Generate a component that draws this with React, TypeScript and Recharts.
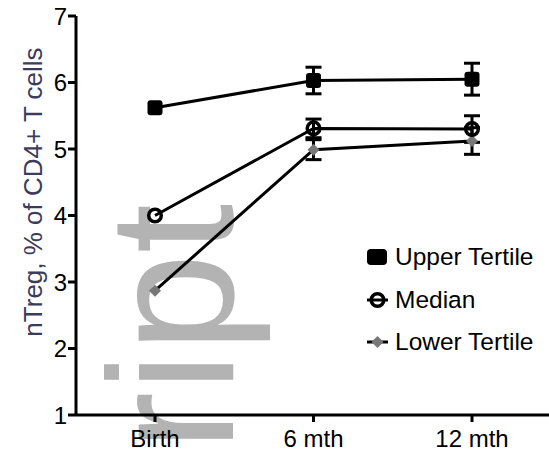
import React from 'react';
import { LineChart, Line, XAxis, YAxis, ErrorBar, Legend } from 'recharts';

const FONT = "Arial, 'Liberation Sans', sans-serif";

// values (mean ± SEM); no visible bars at birth
const timepoints = ['Birth', '6 mth', '12 mth'];
const upperTertile = [5.62, 6.03, 6.05];
const upperTertileErr = [0, 0.2, 0.24];
const medianGroup = [4.0, 5.31, 5.3];
const medianErr = [0, 0.14, 0.2];
const lowerTertile = [2.87, 4.99, 5.12];
const lowerTertileErr = [0, 0.15, 0.2];
const yTicks = [1, 2, 3, 4, 5, 6, 7];

const seriesNames = ['Upper Tertile', 'Median', 'Lower Tertile'];
const seriesShapes = ['square', 'circle', 'diamond'];

const data = timepoints.map((time, i) => ({
  time,
  upper: upperTertile[i],
  upperErr: upperTertileErr[i],
  median: medianGroup[i],
  medianErr: medianErr[i],
  lower: lowerTertile[i],
  lowerErr: lowerTertileErr[i],
}));

const Marker = ({ shape, cx, cy }: { shape: string; cx: number; cy: number }) => {
  if (shape === 'square') {
    return <rect x={cx - 7.5} y={cy - 7.5} width={15} height={15} rx={3} fill="#000" />;
  }
  if (shape === 'circle') {
    return <circle cx={cx} cy={cy} r={6.3} fill="none" stroke="#000" strokeWidth={3.5} />;
  }
  return (
    <polygon
      points={`${cx},${cy - 6} ${cx + 6},${cy} ${cx},${cy + 6} ${cx - 6},${cy}`}
      fill="#777"
    />
  );
};

const makeDot = (shape: string) => (props: any) => {
  const { cx, cy, key } = props;
  if (cx == null || cy == null) return null;
  return <Marker key={key} shape={shape} cx={cx} cy={cy} />;
};

const LegendSymbol = ({ shape }: { shape: string }) => (
  <svg width={24} height={22} style={{ overflow: 'visible' }}>
    {shape === 'square' ? (
      <rect x={1} y={3} width={20} height={16} rx={4} fill="#000" />
    ) : (
      <>
        <line x1={1} y1={11} x2={22} y2={11} stroke="#000" strokeWidth={3} />
        <Marker shape={shape} cx={11.5} cy={11} />
      </>
    )}
  </svg>
);

const LegendContent = () => (
  <div style={{ fontFamily: FONT, fontSize: 24.5, color: '#000' }}>
    {seriesNames.map((name, i) => (
      <div key={name} style={{ display: 'flex', alignItems: 'center', height: 42.5 }}>
        <LegendSymbol shape={seriesShapes[i]} />
        <span style={{ marginLeft: 5 }}>{name}</span>
      </div>
    ))}
  </div>
);

const YLabel = () => (
  <text
    x={33}
    y={192}
    transform="rotate(-90 33 192)"
    textAnchor="middle"
    dominantBaseline="central"
    fontSize={26}
    fontFamily={FONT}
    fill="#3c3c5a"
  >
    nTreg, % of CD4+ T cells
  </text>
);

export default function App() {
  return (
    <div style={{ position: 'absolute', left: 0, top: 0, width: 549, height: 454, background: '#fff' }}>
      {/* manuscript watermark behind the plot */}
      <svg width={549} height={454} style={{ position: 'absolute', left: 0, top: 0 }}>
        <text
          x={233}
          y={451}
          transform="rotate(-90 233 451)"
          fontSize={178}
          fontFamily={FONT}
          fill="#b3b3b3"
        >
          ript
        </text>
      </svg>
      <div style={{ position: 'absolute', left: 0, top: 0 }}>
        <LineChart width={549} height={454} data={data} margin={{ top: 16, right: 0, bottom: 0, left: 0 }}>
          <XAxis
            dataKey="time"
            padding={{ left: 79, right: 77 }}
            height={39}
            stroke="#000"
            strokeWidth={3}
            tickSize={7}
            tickMargin={8}
            tick={{ fill: '#000', fontSize: 24, fontFamily: FONT }}
          />
          <YAxis
            domain={[1, 7]}
            ticks={yTicks}
            width={76}
            stroke="#000"
            strokeWidth={3}
            tickSize={8}
            tickMargin={1}
            tick={{ fill: '#000', fontSize: 24, fontFamily: FONT }}
            label={<YLabel />}
          />
          <Legend
            layout="vertical"
            align="center"
            verticalAlign="middle"
            content={<LegendContent />}
            wrapperStyle={{ left: 366, top: 236, width: 183 }}
          />
          <Line
            dataKey="lower"
            name="Lower Tertile"
            stroke="#000"
            strokeWidth={3}
            dot={makeDot('diamond')}
            activeDot={false}
            isAnimationActive={false}
          >
            <ErrorBar dataKey="lowerErr" width={8} stroke="#000" strokeWidth={3} direction="y" />
          </Line>
          <Line
            dataKey="median"
            name="Median"
            stroke="#000"
            strokeWidth={3}
            dot={makeDot('circle')}
            activeDot={false}
            isAnimationActive={false}
          >
            <ErrorBar dataKey="medianErr" width={8} stroke="#000" strokeWidth={3} direction="y" />
          </Line>
          <Line
            dataKey="upper"
            name="Upper Tertile"
            stroke="#000"
            strokeWidth={3}
            dot={makeDot('square')}
            activeDot={false}
            isAnimationActive={false}
          >
            <ErrorBar dataKey="upperErr" width={8} stroke="#000" strokeWidth={3} direction="y" />
          </Line>
        </LineChart>
      </div>
    </div>
  );
}
